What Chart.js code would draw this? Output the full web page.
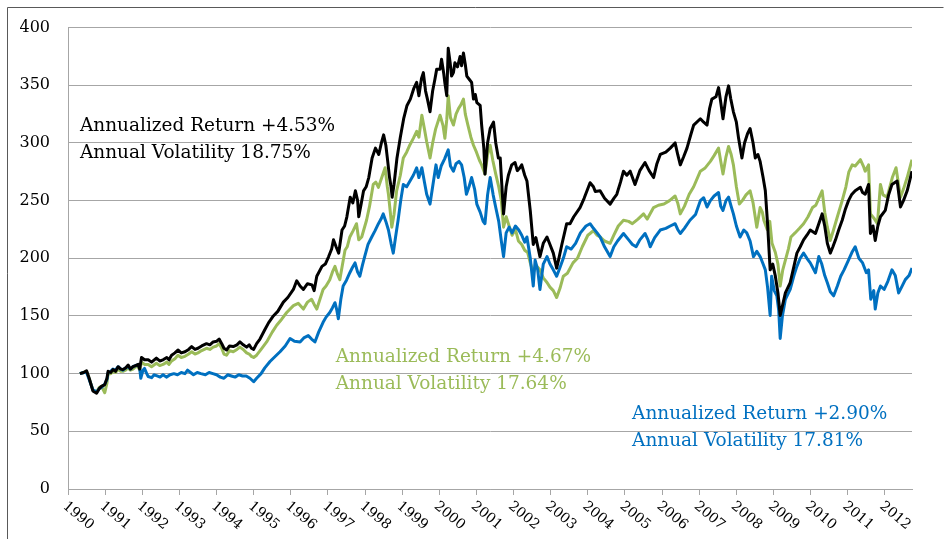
<!DOCTYPE html>
<html>
<head>
<meta charset="utf-8">
<script src="https://cdn.jsdelivr.net/npm/chart.js@4.4.1/dist/chart.umd.min.js"></script>
<style>
  html, body { margin: 0; padding: 0; background: #ffffff; }
  #wrap { position: relative; width: 950px; height: 539px; }
  canvas { display: block; }
</style>
</head>
<body>
<div id="wrap"><canvas id="c" width="950" height="539"></canvas></div>
<script>
// ---------- DATA ----------
const yearTicks = [1990,1991,1992,1993,1994,1995,1996,1997,1998,1999,2000,2001,2002,2003,2004,2005,2006,2007,2008,2009,2010,2011,2012];
const yTickValues = [0,50,100,150,200,250,300,350,400];

const blackDates = [1990.32,1990.42,1990.50,1990.57,1990.67,1990.77,1990.84,1990.90,1990.99,1991.05,1991.08,1991.15,1991.21,1991.28,1991.35,1991.42,1991.48,1991.55,1991.62,1991.68,1991.75,1991.82,1991.89,1991.93,1991.98,1992.06,1992.16,1992.25,1992.38,1992.47,1992.56,1992.66,1992.72,1992.79,1992.88,1992.96,1993.05,1993.15,1993.25,1993.33,1993.42,1993.50,1993.60,1993.73,1993.82,1993.91,1994.00,1994.07,1994.14,1994.20,1994.27,1994.35,1994.45,1994.55,1994.63,1994.72,1994.81,1994.88,1994.94,1995.00,1995.08,1995.17,1995.30,1995.40,1995.53,1995.65,1995.80,1995.92,1996.07,1996.16,1996.25,1996.34,1996.45,1996.57,1996.63,1996.70,1996.84,1996.93,1997.02,1997.10,1997.15,1997.22,1997.29,1997.38,1997.45,1997.51,1997.60,1997.67,1997.74,1997.80,1997.83,1997.90,1997.96,1998.03,1998.10,1998.19,1998.28,1998.37,1998.44,1998.50,1998.56,1998.60,1998.66,1998.70,1998.73,1998.78,1998.86,1998.95,1999.04,1999.13,1999.22,1999.31,1999.39,1999.45,1999.52,1999.57,1999.63,1999.68,1999.75,1999.82,1999.88,1999.93,2000.02,2000.06,2000.12,2000.15,2000.20,2000.24,2000.29,2000.33,2000.38,2000.42,2000.49,2000.56,2000.60,2000.65,2000.70,2000.74,2000.81,2000.87,2000.92,2000.97,2001.01,2001.10,2001.14,2001.20,2001.23,2001.30,2001.37,2001.46,2001.52,2001.59,2001.64,2001.73,2001.80,2001.86,2001.95,2002.04,2002.10,2002.17,2002.22,2002.30,2002.36,2002.45,2002.53,2002.60,2002.71,2002.80,2002.90,2002.98,2003.07,2003.16,2003.22,2003.30,2003.43,2003.52,2003.62,2003.79,2003.90,2004.06,2004.15,2004.20,2004.33,2004.45,2004.60,2004.70,2004.78,2004.88,2004.96,2005.05,2005.14,2005.27,2005.40,2005.54,2005.65,2005.77,2005.86,2005.95,2006.10,2006.22,2006.35,2006.42,2006.49,2006.58,2006.67,2006.78,2006.85,2007.03,2007.12,2007.21,2007.28,2007.34,2007.45,2007.52,2007.58,2007.64,2007.72,2007.79,2007.85,2007.92,2008.00,2008.06,2008.15,2008.22,2008.30,2008.37,2008.45,2008.51,2008.58,2008.64,2008.72,2008.78,2008.84,2008.91,2008.98,2009.05,2009.12,2009.18,2009.25,2009.32,2009.45,2009.55,2009.63,2009.72,2009.81,2009.90,2009.99,2010.13,2010.22,2010.31,2010.38,2010.45,2010.53,2010.60,2010.67,2010.76,2010.85,2010.93,2011.02,2011.10,2011.20,2011.34,2011.40,2011.47,2011.56,2011.61,2011.68,2011.74,2011.81,2011.88,2012.01,2012.10,2012.19,2012.33,2012.42,2012.50,2012.60,2012.73];
const blackValues = [100,101,102.5,96,85,83,87,89,90.5,96,102,101,103.5,102,106,104,103.5,105,107.5,104,106,107,108,104,114,112,112,110,113.5,111,112,114,112,116,118,120.5,118,119,121,123.5,121,122,124,126,125,127.5,128,130,126,122,120.5,124,123.5,125,127.5,125,123,125,122,121,126,130,138,144,150,154,162,166,173,180.5,176,173,178,177,172,184.5,193,195,201.5,208,216,210,204.5,224.5,228,236,253,248,258.5,250,236,248,258.5,262,270,287,295.5,290,300,307,298,287,270,262,253,264,287,305,321,332.5,338,347,352.5,341,356,361,345,338,327,345,355,364,364,372.5,360,352,341,382,370,358,361,369.5,366,375,367,378,368,358,355,352.5,338,342,335,332.5,315.5,295,273,300,312.5,318,300,287,287,238.5,262,272,281,283,276,278.5,281,272,267,241,212,218,201.5,213,218.5,212,204.5,191.5,200,212,230,230,236,244,252,265.5,262,258,258.5,252,247,252,255.5,266,275.5,272,275.5,264,276,283,276,270,282,290,292,295.5,300,290,281,288,295.5,308,315.5,321,318,315.5,330,338,340,348,335,321,340,349.5,338,327,318,304,287,300,308,312.5,300,287,290,284,270,258.5,230,190,195,184.5,170,150.5,160,170,179,193,204.5,210,216,220,224.5,221.5,230,238.5,228,213,204.5,210,216,225,233,242,250,255,258.5,261.5,257,255.5,264,221.5,228,215.5,228,236,241.5,255,264,267,244.5,250,258.5,275.5];

const greenDates = [1990.32,1990.42,1990.50,1990.57,1990.67,1990.77,1990.84,1990.90,1990.99,1991.05,1991.08,1991.15,1991.21,1991.28,1991.35,1991.42,1991.48,1991.55,1991.62,1991.68,1991.75,1991.82,1991.89,1991.93,1991.98,1992.06,1992.16,1992.25,1992.38,1992.47,1992.56,1992.66,1992.72,1992.79,1992.88,1992.96,1993.05,1993.15,1993.25,1993.33,1993.42,1993.50,1993.60,1993.73,1993.82,1993.91,1994.00,1994.07,1994.14,1994.20,1994.27,1994.35,1994.45,1994.55,1994.63,1994.72,1994.81,1994.88,1994.94,1995.00,1995.08,1995.20,1995.35,1995.50,1995.62,1995.75,1995.89,1996.07,1996.20,1996.34,1996.45,1996.56,1996.63,1996.70,1996.87,1996.95,1997.05,1997.12,1997.19,1997.26,1997.32,1997.46,1997.52,1997.59,1997.68,1997.77,1997.83,1997.91,1998.04,1998.12,1998.22,1998.29,1998.36,1998.45,1998.54,1998.60,1998.63,1998.68,1998.72,1998.78,1998.85,1998.95,1999.03,1999.12,1999.21,1999.30,1999.39,1999.45,1999.53,1999.60,1999.66,1999.75,1999.82,1999.90,2000.02,2000.10,2000.15,2000.20,2000.24,2000.30,2000.38,2000.45,2000.52,2000.58,2000.65,2000.70,2000.77,2000.85,2000.92,2001.00,2001.08,2001.14,2001.23,2001.30,2001.37,2001.44,2001.52,2001.60,2001.67,2001.73,2001.80,2001.88,2001.96,2002.05,2002.13,2002.22,2002.30,2002.38,2002.45,2002.53,2002.60,2002.71,2002.80,2002.90,2002.98,2003.07,2003.16,2003.25,2003.34,2003.45,2003.60,2003.72,2003.85,2004.00,2004.06,2004.15,2004.25,2004.33,2004.45,2004.60,2004.70,2004.82,2004.96,2005.10,2005.20,2005.35,2005.50,2005.60,2005.77,2005.90,2006.05,2006.20,2006.35,2006.42,2006.49,2006.60,2006.73,2006.85,2007.03,2007.15,2007.30,2007.40,2007.52,2007.58,2007.64,2007.72,2007.79,2007.86,2007.92,2008.00,2008.08,2008.16,2008.26,2008.37,2008.45,2008.55,2008.64,2008.70,2008.74,2008.83,2008.90,2008.96,2009.05,2009.12,2009.18,2009.25,2009.32,2009.40,2009.47,2009.58,2009.70,2009.81,2009.93,2010.05,2010.14,2010.22,2010.31,2010.38,2010.45,2010.53,2010.62,2010.72,2010.85,2010.95,2011.03,2011.12,2011.20,2011.34,2011.42,2011.47,2011.56,2011.61,2011.70,2011.80,2011.88,2011.95,2012.06,2012.20,2012.30,2012.42,2012.50,2012.60,2012.73];
const greenValues = [100,101,102,96,86,84,88,89,83.5,92,100,100,102,101,104,102,102,103,105,103,104,106,106,103,110,108,108,106,109,107,108,110,108,111,113,116,114,115,117,119,117,118,120,122,121,123,124,126,122,117,116,120,119,121,123,121,118,117,115,114,116,121,127.5,136,142,147,153,159,161,156,162,164.5,160,156,173,176,181.5,188,193,186,181.5,207,210,218.5,224,230,216,218.5,233,245,264,266,261.5,270,278.5,262,255.5,240,227,238,258.5,272,287,292,298.5,304,310,305,324,312,301,287,300,312,324,315,304,320,341,322,315.5,325,330,333,338,325,315.5,305,298,292,285,281,273,290,298,285,273,262,250,227,236,228,220,225,215,212,207,205,196,187.5,194,190,183,179,175,172,166,174,184.5,187,196,200,210,220,221.5,224,220,218.5,215,213,220,228,233,232,230,234,238.5,234,244,246,247,250,254,248,238.5,245,255.5,262,275.5,278,284,289,295.5,284,273,288,297,290,281,262,247,250,255,258.5,248,227,244,240,233,225,232,213,205,195,176,190,198.5,208,218.5,222,226,230,236,244,246,252,258.5,240,227,215.5,225,236,250,262,275,281,280,285.5,280,275.5,281,238.5,235,230,264,255,253,270,278.5,253,260,270,285.5];

const blueDates = [1990.32,1990.42,1990.50,1990.57,1990.67,1990.77,1990.84,1990.90,1990.99,1991.05,1991.08,1991.15,1991.21,1991.28,1991.35,1991.42,1991.48,1991.55,1991.62,1991.68,1991.75,1991.82,1991.89,1991.93,1991.96,1992.02,1992.06,1992.12,1992.16,1992.25,1992.32,1992.40,1992.48,1992.56,1992.65,1992.75,1992.85,1992.95,1993.05,1993.15,1993.22,1993.30,1993.38,1993.48,1993.58,1993.70,1993.80,1993.90,1994.00,1994.10,1994.20,1994.30,1994.40,1994.50,1994.60,1994.70,1994.80,1994.90,1995.00,1995.08,1995.20,1995.30,1995.44,1995.55,1995.71,1995.85,1995.98,1996.10,1996.25,1996.35,1996.47,1996.56,1996.65,1996.75,1996.87,1996.95,1997.05,1997.12,1997.19,1997.24,1997.28,1997.35,1997.41,1997.50,1997.59,1997.66,1997.73,1997.80,1997.86,1997.93,1997.99,1998.08,1998.18,1998.27,1998.36,1998.43,1998.49,1998.56,1998.63,1998.70,1998.76,1998.82,1998.89,1998.96,1999.03,1999.12,1999.21,1999.30,1999.39,1999.45,1999.53,1999.60,1999.66,1999.75,1999.82,1999.91,1999.97,2000.05,2000.14,2000.24,2000.30,2000.38,2000.45,2000.53,2000.60,2000.67,2000.73,2000.80,2000.87,2000.95,2001.01,2001.10,2001.18,2001.23,2001.30,2001.37,2001.45,2001.52,2001.60,2001.67,2001.73,2001.80,2001.88,2001.96,2002.05,2002.14,2002.22,2002.30,2002.36,2002.45,2002.53,2002.58,2002.65,2002.71,2002.80,2002.90,2002.98,2003.07,2003.16,2003.25,2003.34,2003.43,2003.55,2003.67,2003.80,2003.95,2004.06,2004.15,2004.25,2004.33,2004.45,2004.60,2004.70,2004.80,2004.96,2005.10,2005.20,2005.30,2005.40,2005.54,2005.62,2005.68,2005.80,2005.95,2006.10,2006.22,2006.35,2006.42,2006.49,2006.60,2006.75,2006.90,2007.03,2007.12,2007.21,2007.30,2007.40,2007.52,2007.58,2007.64,2007.72,2007.79,2007.86,2007.92,2008.00,2008.10,2008.20,2008.28,2008.37,2008.46,2008.55,2008.64,2008.72,2008.78,2008.84,2008.91,2008.95,2009.02,2009.09,2009.14,2009.18,2009.24,2009.32,2009.45,2009.55,2009.63,2009.72,2009.81,2009.90,2009.99,2010.13,2010.22,2010.30,2010.38,2010.45,2010.53,2010.62,2010.72,2010.81,2010.90,2011.02,2011.11,2011.20,2011.30,2011.40,2011.50,2011.56,2011.62,2011.70,2011.74,2011.81,2011.88,2011.98,2012.08,2012.19,2012.28,2012.37,2012.45,2012.55,2012.65,2012.73];
const blueValues = [100,101,101,95,86,84,87,88,91,95,101,102,104,103,106,104,103,105,106,104,106,107,107.5,105,96,103,104.5,100,97.5,96.5,99,98,97,99,97,99,100,99,101,100,103,101,99,101,100,99,101,100,99,97,96,99,98,97,99,98,98,96,93,96,100,105,110.5,114,119,124,130.5,128,127.5,131,133,130,127.5,136,144.5,149,153,157,161.5,155,147.5,165,176,181,187.5,192,196,188,184.5,194,201.5,212,218.5,224,230,234,238.5,232,224.5,213,204.5,218,233,250,264,262,267,272,278.5,270,278.5,266,255.5,247,262,281,270,280,286,294,280,275.5,282,284,281,270,255.5,262,270,260,247,240,232,230,255,270,255,244,232,215,201.5,222,227,222,228,224.5,220,214,218.5,200,176,198.5,190,173,195,201.5,195,190,184.5,192,200,210,208,213,222,228,230,226,222,218.5,210,201.5,210,215,221.5,216,212,210,216,221.5,216,210,218,224.5,226,228,230,225,221.5,226,233,238,250,252.5,244.5,250,254,257,245,241.5,250,253,245,238.5,228,218.5,224.5,222,215,201.5,206,201.5,195,190,175,150.5,184.5,172,167.5,155,130.5,150,164.5,173,185,193,200,204.5,200,196,187.5,201.5,195,185,178.8,171,167.5,176,184.5,190,198.5,205,210,200,196,187.5,190,164.5,172,156,170,176,173,180,190,185,170,175,181.5,185,191.5];

const seriesColors = { black: '#000000', green: '#9BBB59', blue: '#0070C0' };

const annotationTexts = [
  { lines: ['Annualized Return +4.53%', 'Annual Volatility 18.75%'], color: '#000000', year: 1990.32, value: 310 },
  { lines: ['Annualized Return +4.67%', 'Annual Volatility 17.64%'], color: '#9BBB59', year: 1997.21, value: 110 },
  { lines: ['Annualized Return +2.90%', 'Annual Volatility 17.81%'], color: '#0070C0', year: 2005.19, value: 61 }
];

// ---------- BUILD ----------
function pairs(xs, ys) { return xs.map((x, i) => ({ x: x, y: ys[i] })); }

const SERIF = "'DejaVu Serif', 'Liberation Serif', serif";

const decorPlugin = {
  id: 'decor',
  beforeDraw(chart) {
    const ctx = chart.ctx;
    ctx.save();
    ctx.fillStyle = '#ffffff';
    ctx.fillRect(0, 0, chart.width, chart.height);
    ctx.restore();
  },
  afterDraw(chart) {
    const ctx = chart.ctx;
    const xs = chart.scales.x, ys = chart.scales.y;
    ctx.save();
    // outer frame
    ctx.strokeStyle = '#595959';
    ctx.lineWidth = 1;
    ctx.beginPath();
    ctx.moveTo(7.5, chart.height);
    ctx.lineTo(7.5, 7.5);
    ctx.lineTo(chart.width - 6.5, 7.5);
    ctx.stroke();

    // rotated x labels (clockwise)
    ctx.fillStyle = '#000000';
    ctx.font = "14px " + SERIF;
    ctx.textAlign = 'left';
    ctx.textBaseline = 'top';
    const angle = 40 * Math.PI / 180;
    yearTicks.forEach(yr => {
      const px = xs.getPixelForValue(yr);
      ctx.save();
      ctx.translate(px + 1, xs.top + 10);
      ctx.rotate(angle);
      ctx.fillText(String(yr), 0, 0);
      ctx.restore();
    });

    // annotations
    ctx.font = "20px " + SERIF;
    const w = ctx.measureText('Annual Volatility 18.75%').width;
    const size = 20 * 231 / w;
    ctx.font = size.toFixed(2) + "px " + SERIF;
    ctx.textBaseline = 'alphabetic';
    annotationTexts.forEach(a => {
      const px = xs.getPixelForValue(a.year);
      const py = ys.getPixelForValue(a.value);
      ctx.fillStyle = a.color;
      a.lines.forEach((ln, i) => ctx.fillText(ln, px, py + i * 27));
    });
    ctx.restore();
  }
};

new Chart(document.getElementById('c'), {
  type: 'line',
  data: {
    datasets: [
      { label: 'Black', data: pairs(blackDates, blackValues), borderColor: seriesColors.black, borderWidth: 3 },
      { label: 'Blue', data: pairs(blueDates, blueValues), borderColor: seriesColors.blue, borderWidth: 3 },
      { label: 'Green', data: pairs(greenDates, greenValues), borderColor: seriesColors.green, borderWidth: 3 }
    ]
  },
  options: {
    responsive: false,
    animation: false,
    elements: { point: { radius: 0 }, line: { tension: 0, borderJoinStyle: 'round' } },
    layout: { padding: { left: 0, top: 21, right: 38, bottom: 0 } },
    plugins: { legend: { display: false }, tooltip: { enabled: false } },
    scales: {
      x: {
        type: 'linear',
        min: 1990,
        max: 2012.73,
        afterBuildTicks(scale) { scale.ticks = yearTicks.map(v => ({ value: v })); },
        afterFit(scale) { scale.height = 50; },
        ticks: { display: false },
        grid: { drawOnChartArea: false, drawTicks: true, tickLength: 6, color: '#A6A6A6', lineWidth: 1 },
        border: { display: true, color: '#A6A6A6', width: 1 }
      },
      y: {
        min: 0,
        max: 400,
        afterBuildTicks(scale) { scale.ticks = yTickValues.map(v => ({ value: v })); },
        afterFit(scale) { scale.width = 68; },
        ticks: { padding: 18, color: '#000000', font: { family: SERIF, size: 16 } },
        grid: { drawTicks: false, color: '#A6A6A6', lineWidth: 1 },
        border: { display: true, color: '#A6A6A6', width: 1 }
      }
    }
  },
  plugins: [decorPlugin]
});
</script>
</body>
</html>
